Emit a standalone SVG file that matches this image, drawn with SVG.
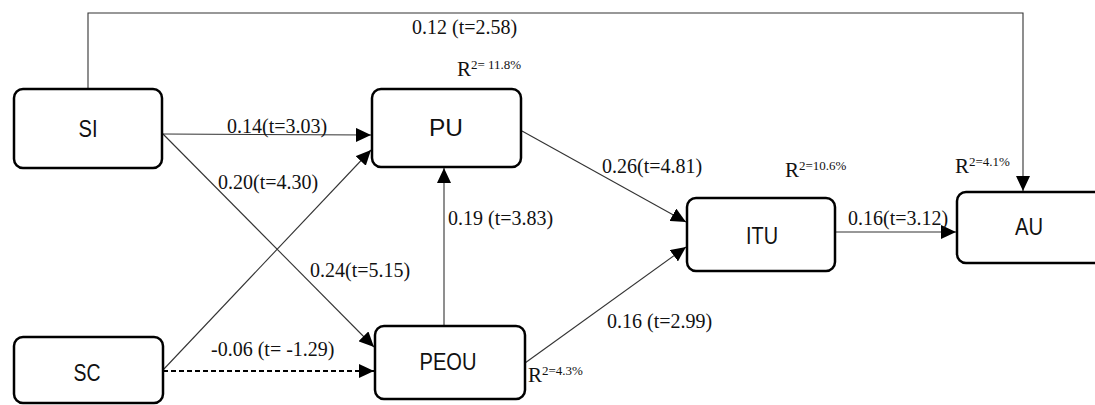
<svg xmlns="http://www.w3.org/2000/svg" width="1095" height="405" viewBox="0 0 1095 405">
<style>
.box{fill:#fff;stroke:#000;stroke-width:2.5}
.nl{font-family:"Liberation Sans Narrow","Liberation Sans",Arial,sans-serif;font-size:24px;fill:#111;text-anchor:middle}
.el{font-family:"Liberation Serif","DejaVu Serif",serif;font-size:20px;fill:#111}
.r{font-family:"Liberation Serif","DejaVu Serif",serif;font-size:21px;fill:#111}
.sup{font-size:13px}
.c{fill:none;stroke:#333;stroke-width:1.1}
.d{fill:none;stroke:#000;stroke-width:1.8;stroke-dasharray:5,3}
</style>
<defs>
<marker id="ah" markerUnits="userSpaceOnUse" markerWidth="16" markerHeight="14" refX="15" refY="7" orient="auto">
<path d="M0,0 L15,7 L0,14 Z" fill="#000"/>
</marker>
</defs>
<g id="connectors">
<polyline class="c" points="88,89 88,13 1023,13 1023,191" marker-end="url(#ah)"/>
<line class="c" x1="163" y1="134" x2="371" y2="135" marker-end="url(#ah)"/>
<line class="c" x1="163" y1="134" x2="374" y2="347" marker-end="url(#ah)"/>
<line class="c" x1="163" y1="370" x2="371" y2="150" marker-end="url(#ah)"/>
<line class="d" x1="163" y1="371" x2="374" y2="371" marker-end="url(#ah)"/>
<line class="c" x1="444" y1="326" x2="444" y2="168" marker-end="url(#ah)"/>
<line class="c" x1="522" y1="131" x2="686" y2="222" marker-end="url(#ah)"/>
<line class="c" x1="525" y1="363" x2="686" y2="247" marker-end="url(#ah)"/>
<line class="c" x1="836" y1="232" x2="956" y2="232" marker-end="url(#ah)"/>
</g>
<g id="labels">
<text class="el" x="412" y="34">0.12 (t=2.58)</text>
<text class="el" x="227" y="133">0.14(t=3.03)</text>
<text class="el" x="218" y="189">0.20(t=4.30)</text>
<text class="el" x="310" y="277">0.24(t=5.15)</text>
<text class="el" x="211" y="356">-0.06 (t= -1.29)</text>
<text class="el" x="448" y="225">0.19 (t=3.83)</text>
<text class="el" x="602" y="173">0.26(t=4.81)</text>
<text class="el" x="607" y="328">0.16 (t=2.99)</text>
<text class="el" x="848" y="225">0.16(t=3.12)</text>
<text class="r" x="457" y="76">R<tspan class="sup" dy="-7">2= 11.8%</tspan></text>
<text class="r" x="785" y="177">R<tspan class="sup" dy="-7">2=10.6%</tspan></text>
<text class="r" x="955" y="173">R<tspan class="sup" dy="-7">2=4.1%</tspan></text>
<text class="r" x="528" y="382">R<tspan class="sup" dy="-7">2=4.3%</tspan></text>
</g>
<g id="SI"><rect class="box" x="14" y="89" width="148" height="79" rx="9"/><text class="nl" x="88" y="137" textLength="19" lengthAdjust="spacingAndGlyphs">SI</text></g>
<g id="PU"><rect class="box" x="372" y="89" width="149" height="78" rx="9"/><text class="nl" x="446" y="136" textLength="34" lengthAdjust="spacingAndGlyphs">PU</text></g>
<g id="SC"><rect class="box" x="14" y="337" width="149" height="66" rx="9"/><text class="nl" x="87" y="381" textLength="27" lengthAdjust="spacingAndGlyphs">SC</text></g>
<g id="PEOU"><rect class="box" x="375" y="326" width="150" height="73" rx="9"/><text class="nl" x="448" y="370" textLength="57" lengthAdjust="spacingAndGlyphs">PEOU</text></g>
<g id="ITU"><rect class="box" x="687" y="198" width="148" height="73" rx="9"/><text class="nl" x="762" y="244" textLength="32" lengthAdjust="spacingAndGlyphs">ITU</text></g>
<g id="AU"><rect class="box" x="957" y="192" width="150" height="71" rx="9"/><text class="nl" x="1029" y="235" textLength="28" lengthAdjust="spacingAndGlyphs">AU</text></g>
</svg>
